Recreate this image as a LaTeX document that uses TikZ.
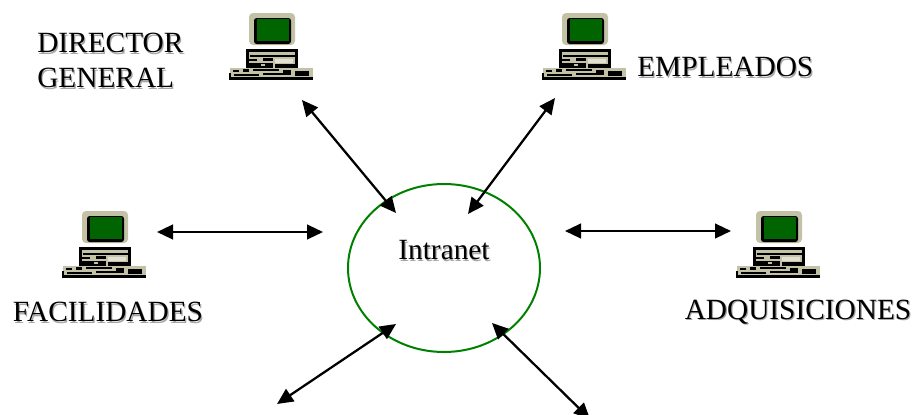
\documentclass[tikz,border=0pt]{standalone}
\usepackage{fontspec}
\setmainfont{Liberation Serif}
\usetikzlibrary{arrows.meta,shapes.geometric}
\definecolor{beige}{RGB}{196,194,166}
\definecolor{screen}{RGB}{0,100,0}
\definecolor{ring}{RGB}{0,128,0}
\newcommand{\shtext}[1]{\leavevmode\rlap{\kern0.9pt\raisebox{-0.9pt}{\textcolor{black!35}{#1}}}#1}
\tikzset{
  label/.style={font=\fontsize{22pt}{27pt}\selectfont, inner sep=0pt, align=left},
  link/.style={line width=1.7pt, {Triangle[length=12pt,width=11pt]}-{Triangle[length=12pt,width=11pt]}},
  computer/.pic={
    % monitor
    \fill[beige, rounded corners=3pt] (20,0) rectangle (66,32);
    \fill[black, rounded corners=2pt] (25,5) rectangle (62,31);
    \fill[screen] (28,6) rectangle (60,28);
    % base
    \fill[black] (17,36) rectangle (69,39);
    \fill[beige] (18,39) rectangle (68,55);
    \fill[black] (17,39) rectangle (20,55);
    \fill[black] (21,42) rectangle (66,44);
    \fill[black] (66,39) rectangle (69,55);
    \fill[black] (20,46) rectangle (28,48);
    \fill[black] (34,45) rectangle (44,48);
    \fill[beige!50!white] (46,46) rectangle (64,50);
    \fill[black] (20,50) rectangle (44,55);
    \fill[black] (46,51) rectangle (68,55);
    \fill[beige] (32,51) rectangle (36,53);
    % keyboard
    \fill[beige] (1,55) rectangle (84,65);
    \fill[black] (0,64) rectangle (84,67);
    \fill[black] (0,60) rectangle (2,65);
    \fill[black] (4,57) rectangle (10,59);
    \fill[black] (14,56) rectangle (20,59);
    \fill[black] (24,56) rectangle (50,58);
    \fill[black] (54,57) rectangle (62,60);
    \fill[black] (66,58) rectangle (80,63);
    \fill[black] (5,61) rectangle (30,63);
    \fill[black] (34,60) rectangle (62,62);
  }
}
\begin{document}
\begin{tikzpicture}[x=0.75pt,y=-0.75pt]
    \useasboundingbox (0,0) rectangle (913,414);
    \clip (0,0) rectangle (913,414);

    \pic at (229,13) {computer};
    \pic at (542,13) {computer};
    \pic at (62,211) {computer};
    \pic at (736,211) {computer};

    \node[ellipse, draw=ring, line width=1.5pt, inner sep=0pt,
      minimum width=144pt, minimum height=126pt] (intranet) at (444,268) {};
    \node[label] (intranettext) at (444,251) {\shtext{Intranet}};

    \node[label, anchor=west] (director) at (37,44) {\shtext{DIRECTOR}};
    \node[label, anchor=west] (general) at (37,79) {\shtext{GENERAL}};
    \node[label, anchor=west] (empleados) at (637,68) {\shtext{EMPLEADOS}};
    \node[label] (facilidades) at (108,313) {\shtext{FACILIDADES}};
    \node[label] (adquisiciones) at (798,313) {\shtext{ADQUISICIONES}};

    \coordinate (dirend) at (302,100);   \coordinate (dirin) at (396,213);
    \coordinate (empend) at (555,98);    \coordinate (empin) at (468,214);
    \coordinate (facend) at (157,232);   \coordinate (facin) at (323,232);
    \coordinate (adqend) at (731,231);   \coordinate (adqin) at (565,231);
    \coordinate (botlend) at (277,404);  \coordinate (botlin) at (396,324);
    \coordinate (botrend) at (590,419);  \coordinate (botrin) at (492,323);

    \draw[link] (dirend) -- (dirin);
    \draw[link] (empend) -- (empin);
    \draw[link] (facend) -- (facin);
    \draw[link] (adqend) -- (adqin);
    \draw[link] (botlend) -- (botlin);
    \draw[link] (botrend) -- (botrin);
  \end{tikzpicture}
\end{document}
